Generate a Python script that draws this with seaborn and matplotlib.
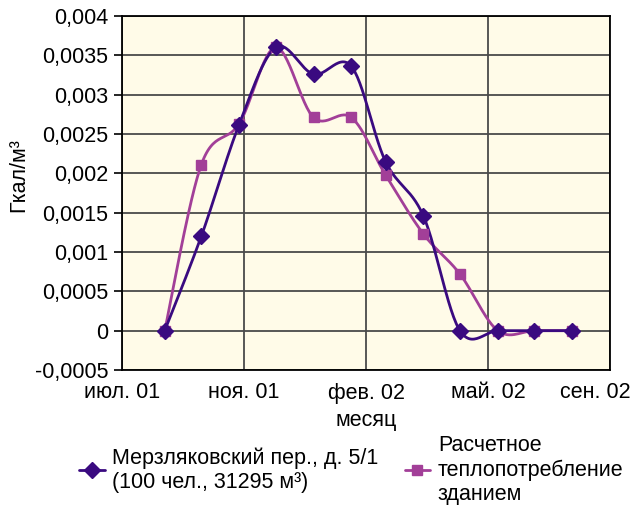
import numpy as np
import pandas as pd
import matplotlib
matplotlib.use("Agg")
import matplotlib.pyplot as plt
import matplotlib.transforms as mtransforms
from matplotlib.lines import Line2D
import seaborn as sns

# ---- data ----
months = ["2001-09-01", "2001-10-01", "2001-11-01", "2001-12-01", "2002-01-01", "2002-02-01",
          "2002-03-01", "2002-04-01", "2002-05-01", "2002-06-01", "2002-07-01", "2002-08-01"]
measured = [0.0, 0.00120, 0.00262, 0.00360, 0.00326, 0.00336,
            0.00215, 0.00146, 0.0, 0.0, 0.0, 0.0]
calculated = [0.0, 0.00211, 0.00263, 0.00360, 0.00271, 0.00271,
              0.00198, 0.00123, 0.00072, 0.0, 0.0, 0.0]
series_names = ["Мерзляковский пер., д. 5/1\n(100 чел., 31295 м³)",
                "Расчетное\nтеплопотребление\nзданием"]
x_tick_labels = ["июл. 01", "ноя. 01", "фев. 02", "май. 02", "сен. 02"]
axis_start = "2001-07-28"
tick_step_days = 100
y_ticks = [-0.0005, 0.0, 0.0005, 0.001, 0.0015, 0.002, 0.0025, 0.003, 0.0035, 0.004]
y_tick_labels = ["-0,0005", "0", "0,0005", "0,001", "0,0015", "0,002", "0,0025", "0,003",
                 "0,0035", "0,004"]

sns.set_theme(style="white")
plt.rcParams["font.family"] = ["Liberation Sans", "DejaVu Sans"]
FS = 15.5

W, H, DPI = 633, 507, 100
fig = plt.figure(figsize=(W / DPI, H / DPI), dpi=DPI)
L, R, T, B = 122 / W, 610 / W, 16 / H, 370 / H
ax = fig.add_axes([L, 1 - B, R - L, B - T])
ax.set_facecolor("#FFFBE8")

t0 = pd.Timestamp(axis_start)
xd = np.array([(pd.Timestamp(m) - t0).days for m in months], dtype=float)
xmin, xmax = 0, tick_step_days * (len(x_tick_labels) - 1)
ymin, ymax = y_ticks[0], y_ticks[-1]
ax.set_xlim(xmin, xmax)
ax.set_ylim(ymin, ymax)

pw, ph = (R - L) * W, (B - T) * H


def smooth(x, y, n=30):
    px = np.asarray(x) * pw / (xmax - xmin)
    py = np.asarray(y) * ph / (ymax - ymin)
    P = np.column_stack([px, py])
    Pe = np.vstack([P[0], P, P[-1]])
    out = []
    for i in range(len(P) - 1):
        p0, p1, p2, p3 = Pe[i], Pe[i + 1], Pe[i + 2], Pe[i + 3]
        c1 = p1 + (p2 - p0) / 6
        c2 = p2 - (p3 - p1) / 6
        t = np.linspace(0, 1, n)[:, None]
        seg = (1 - t) ** 3 * p1 + 3 * (1 - t) ** 2 * t * c1 + 3 * (1 - t) * t ** 2 * c2 + t ** 3 * p2
        out.append(seg if i == 0 else seg[1:])
    S = np.vstack(out)
    return S[:, 0] * (xmax - xmin) / pw, S[:, 1] * (ymax - ymin) / ph


colors = ["#3A0A80", "#A23F98"]
markers = ["D", "s"]
msizes = [8, 7.5]

order = [(calculated, colors[1], markers[1], msizes[1]), (measured, colors[0], markers[0], msizes[0])]
for vals, c, mk, ms in order:
    sx, sy = smooth(xd, vals)
    sns.lineplot(x=sx, y=sy, ax=ax, color=c, lw=2.0, sort=False, estimator=None, zorder=3)
    ax.plot(xd, vals, ls="none", marker=mk, ms=ms, color=c, mec=c, zorder=4)

ax.set_xticks([xmin + k * tick_step_days for k in range(len(x_tick_labels))])
ax.set_xticklabels(x_tick_labels)
ax.set_yticks(y_ticks)
ax.set_yticklabels(y_tick_labels)

ax.grid(True, color="#4A4A4A", lw=1.3)
ax.set_axisbelow(True)
for s in ax.spines.values():
    s.set_color("black")
    s.set_linewidth(1.3)
ax.tick_params(axis="y", direction="out", length=6, width=1.2, color="black",
               labelsize=FS, pad=4, left=True)
ax.tick_params(axis="x", length=0, labelsize=FS, pad=9)
for lab in ax.get_xticklabels() + ax.get_yticklabels():
    lab.set_color("black")

last = ax.get_xticklabels()[-1]
last.set_horizontalalignment("right")
last.set_transform(last.get_transform() + mtransforms.ScaledTranslation(21 / DPI, 0, fig.dpi_scale_trans))

ax.set_xlabel("месяц", fontsize=FS, color="black", labelpad=5)
ax.set_ylabel("Гкал/м³", fontsize=FS, color="black")
ax.yaxis.set_label_coords(-0.19, 0.55)

handles = [Line2D([], [], color=colors[0], lw=2.0, marker="D", ms=8),
           Line2D([], [], color=colors[1], lw=2.0, marker="s", ms=7.5)]
leg = fig.legend(handles, series_names, loc="center", bbox_to_anchor=(0.555, 1 - 470 / H),
                 ncol=2, frameon=False, fontsize=FS, handlelength=1.2, handletextpad=0.35,
                 columnspacing=1.2, labelspacing=0.2)
for t in leg.get_texts():
    t.set_color("black")

fig.savefig("out.png", dpi=DPI)
